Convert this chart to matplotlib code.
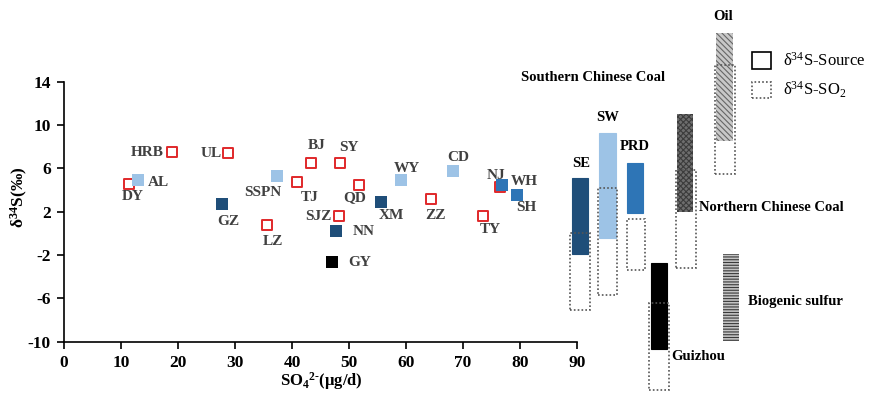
import matplotlib
matplotlib.use("Agg")
import matplotlib.pyplot as plt
from matplotlib.patches import Rectangle, Patch

plt.rcParams['font.family'] = ['Liberation Serif', 'DejaVu Serif']
plt.rcParams['mathtext.fontset'] = 'custom'
plt.rcParams['mathtext.rm'] = 'Liberation Serif'
plt.rcParams['mathtext.bf'] = 'Liberation Serif:bold'
plt.rcParams['mathtext.it'] = 'Liberation Serif:italic'
plt.rcParams['mathtext.default'] = 'regular'
plt.rcParams['axes.unicode_minus'] = False
plt.rcParams['hatch.linewidth'] = 0.8

# ---------------- data ----------------
sites = ["DY", "HRB", "UL", "LZ", "TJ", "BJ", "SY", "QD", "SJZ", "ZZ", "TY", "NJ",
         "AL", "SSPN", "WY", "CD",
         "GZ", "XM", "NN",
         "WH", "SH",
         "GY"]
so4 = [11.4, 18.9, 28.8, 35.7, 40.8, 43.3, 48.4, 51.8, 48.3, 64.3, 73.5, 76.5,
       12.9, 37.4, 59.2, 68.2,
       27.7, 55.6, 47.7,
       76.9, 79.4,
       47.1]
d34s = [4.6, 7.5, 7.4, 0.8, 4.75, 6.5, 6.5, 4.5, 1.6, 3.2, 1.6, 4.3,
        4.9, 5.3, 4.9, 5.8,
        2.7, 2.9, 0.2,
        4.45, 3.55,
        -2.65]
group = ["none"] * 12 + ["light"] * 4 + ["dark"] * 3 + ["mid"] * 2 + ["black"]

# source ranges (delta34S, per mil)
src_names = ["SE", "SW", "PRD", "Guizhou", "Northern Chinese Coal", "Oil", "Biogenic sulfur"]
src_low = [-1.9, -0.4, 1.85, -10.7, 2.0, 8.55, -9.9]
src_high = [5.15, 9.3, 6.5, -2.75, 11.0, 18.5, -1.9]
so2_names = ["SE", "SW", "PRD", "Guizhou", "Northern Chinese Coal", "Oil"]
so2_low = [-7.1, -5.7, -3.4, -14.45, -3.2, 5.5]
so2_high = [0.0, 4.15, 1.3, -6.4, 5.85, 15.5]

# ---------------- layout / style ----------------
colors = {"light": "#9DC3E6", "mid": "#2E75B6", "dark": "#1F4E79", "black": "#000000"}
red = "#E0282A"
label_off = {  # (dx, dy) pixels, ha
    "DY": (4, -13, "center"), "HRB": (-8, 0, "right"), "UL": (-6, 0, "right"),
    "LZ": (5, -17, "center"), "TJ": (13, -16, "center"), "BJ": (6, 17, "center"),
    "SY": (9, 15, "center"), "QD": (-5, -13, "center"), "SJZ": (-8, 0, "right"),
    "ZZ": (5, -17, "center"), "TY": (7, -13, "center"), "NJ": (-4, 11, "center"),
    "AL": (10, -2, "left"), "SSPN": (4, -17, "right"), "WY": (5, 12, "center"),
    "CD": (6, 13, "center"), "GZ": (6, -17, "center"), "XM": (10, -14, "center"),
    "NN": (17, 0, "left"), "WH": (8, 4, "left"), "SH": (10, -13, "center"),
    "GY": (16, 0, "left"),
}
src_x = {"SE": (89.1, 92.0), "SW": (93.9, 96.8), "PRD": (98.8, 101.6),
         "Guizhou": (102.9, 105.8), "Northern Chinese Coal": (107.5, 110.4),
         "Oil": (114.4, 117.4), "Biogenic sulfur": (115.7, 118.5)}
so2_x = {"SE": (88.8, 92.3), "SW": (93.7, 97.1), "PRD": (98.8, 101.9),
         "Guizhou": (102.6, 106.2), "Northern Chinese Coal": (107.4, 110.8),
         "Oil": (114.2, 117.7)}
src_style = {
    "SE": dict(facecolor=colors["dark"], edgecolor=colors["dark"], lw=0.8),
    "SW": dict(facecolor=colors["light"], edgecolor=colors["light"], lw=0.8),
    "PRD": dict(facecolor=colors["mid"], edgecolor=colors["mid"], lw=0.8),
    "Guizhou": dict(facecolor="#000000", edgecolor="#000000", lw=0.8),
    "Northern Chinese Coal": dict(facecolor="#6e6e6e", edgecolor="#3c3c3c", lw=0, hatch="xxxxxx"),
    "Oil": dict(facecolor="#c8c8c8", edgecolor="#666666", lw=0, hatch="\\\\\\\\\\\\"),
    "Biogenic sulfur": dict(facecolor="#c4c4c4", edgecolor="#3a3a3a", lw=0, hatch="------"),
}

fig = plt.figure(figsize=(8.8, 3.93), dpi=100)
ax = fig.add_axes([64 / 880, 1 - 341.7 / 393, 798 / 880, 260 / 393])
ax.set_xlim(0, 140)
ax.set_ylim(-10, 14)

# points
for g in ["none", "light", "dark", "mid", "black"]:
    xs = [x for x, gg in zip(so4, group) if gg == g]
    ys = [y for y, gg in zip(d34s, group) if gg == g]
    if g == "none":
        ax.scatter(xs, ys, marker="s", s=62, facecolors="white", edgecolors=red,
                   linewidths=1.4, zorder=3)
    else:
        ax.scatter(xs, ys, marker="s", s=80, color=colors[g], linewidths=0, zorder=4)

for name, x, y in zip(sites, so4, d34s):
    dx, dy, ha = label_off[name]
    ax.annotate(name, (x, y), xytext=(dx, dy), textcoords="offset pixels",
                ha=ha, va="center", fontsize=11, fontweight="bold", color="#404040",
                zorder=5)

# source boxes
for name, lo, hi in zip(src_names, src_low, src_high):
    x0, x1 = src_x[name]
    ax.add_patch(Rectangle((x0, lo), x1 - x0, hi - lo, clip_on=False, zorder=2,
                           **src_style[name]))
for name, lo, hi in zip(so2_names, so2_low, so2_high):
    x0, x1 = so2_x[name]
    ax.add_patch(Rectangle((x0, lo), x1 - x0, hi - lo, fill=False, edgecolor="#555555",
                           linestyle=(0, (1, 1.3)), lw=1.2, clip_on=False, zorder=3))

# region labels
txt = dict(fontsize=10.5, fontweight="bold", color="black", clip_on=False)
ax.text(92.9, 14.35, "Southern Chinese Coal", ha="center", va="center", **txt)
ax.text(95.3, 10.74, "SW", ha="center", va="center", **txt)
ax.text(100.2, 7.98, "PRD", ha="center", va="center", **txt)
ax.text(90.7, 6.41, "SE", ha="center", va="center", **txt)
ax.text(115.6, 19.98, "Oil", ha="center", va="center", **txt)
ax.text(111.4, 2.35, "Northern Chinese Coal", ha="left", va="center", **txt)
ax.text(120.0, -6.33, "Biogenic sulfur", ha="left", va="center", **txt)
ax.text(106.5, -11.4, "Guizhou", ha="left", va="center", **txt)

# axes styling
for s in ["top", "right"]:
    ax.spines[s].set_visible(False)
ax.spines["bottom"].set_bounds(0, 90)
ax.spines["left"].set_bounds(-10, 14)
for s in ["bottom", "left"]:
    ax.spines[s].set_linewidth(1.2)
ax.set_xticks(range(0, 91, 10))
ax.set_yticks([-10, -6, -2, 2, 6, 10, 14])
ax.tick_params(direction="out", length=5, width=1.2, labelsize=12.5, pad=4.5)
for lab in ax.get_xticklabels() + ax.get_yticklabels():
    lab.set_fontweight("bold")

fig.text(321.7 / 880, 1 - 381 / 393, r"SO$_{\mathbf{4}}$$^{\mathbf{2}\text{-}}$(μg/d)",
         ha="center", va="center", fontsize=12, fontweight="bold")
fig.text(19 / 880, 1 - 197 / 393, r"δ$^{\mathbf{34}}$S(‰)", rotation=90,
         ha="center", va="center", fontsize=12.5, fontweight="bold")

handles = [Patch(facecolor="white", edgecolor="black", lw=1.2),
           Patch(facecolor="white", edgecolor="#555555", lw=1.2, linestyle=(0, (1, 1.3)))]
ax.legend(handles, [r"δ$^{34}$S-Source", r"δ$^{34}$S-SO$_2$"], loc="upper left",
          bbox_to_anchor=(752 / 880, 1 - 52 / 393), bbox_transform=fig.transFigure,
          frameon=False, fontsize=12, handlelength=1.15, handleheight=1.15,
          handletextpad=0.7, labelspacing=0.6, borderaxespad=0, borderpad=0)

fig.savefig("out.png", dpi=100)
